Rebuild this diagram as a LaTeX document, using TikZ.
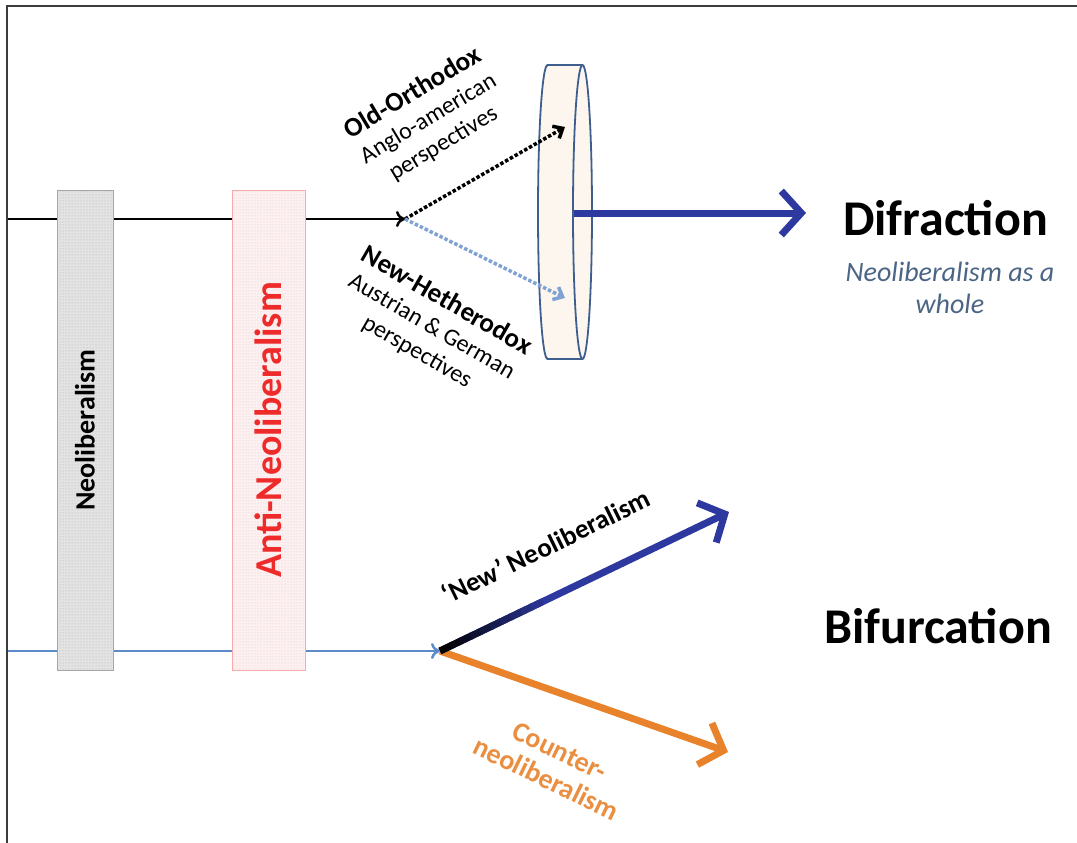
\documentclass[tikz,border=0pt]{standalone}
\usepackage{fontspec}
\setmainfont{Carlito}
\usepackage{xcolor}
\usepackage{tikz}
\usetikzlibrary{arrows.meta,positioning,calc,patterns}

\definecolor{framegray}{HTML}{3C3C3C}
\definecolor{linkblue}{HTML}{5B8CC8}
\definecolor{dotblue}{HTML}{7FA2D2}
\definecolor{deepblue}{HTML}{2D399F}
\definecolor{fanorange}{HTML}{E8832C}
\definecolor{lensedge}{HTML}{3E5F8E}
\definecolor{lensfill}{HTML}{FCF6EE}
\definecolor{notegray}{HTML}{4B6585}
\definecolor{antired}{HTML}{EE2A2A}

\tikzset{
  band/.style={draw=gray!70, fill=gray!22, line width=1pt, inner sep=0pt,
    rotate=90, minimum width=480pt},
  thinarrow/.style={line width=2.5pt, -{To[length=9pt,width=16pt]}},
  dotarrow/.style={line width=3.5pt, dotted, -{Straight Barb[length=8pt,width=14pt]}},
  fatarrow/.style={line width=7pt, -{Straight Barb[length=20pt,width=44pt]}},
  tilted/.style={align=center, inner sep=0pt},
  lensline/.style={lensedge, line width=1.8pt},
}

\begin{document}
\begin{tikzpicture}[x=1pt,y=-1pt]
    \useasboundingbox (0,0) rectangle (1077,843);

    % Frame
    \draw[framegray, line width=2.5pt] (7,843) -- (7,6) -- (1077,6);

    % Upper track
    \coordinate (topstart) at (8,219);
    \coordinate (split) at (405,219);
    \draw[black, thinarrow] (topstart) -- (split);

    % Lower track
    \coordinate (lowstart) at (8,651);
    \coordinate (fork) at (440,651);
    \draw[linkblue, thinarrow] (lowstart) -- (fork);

    % Bands
    \node[band, minimum height=56pt, postaction={pattern=dots, pattern color=gray!60},
        font=\fontsize{28}{30}\selectfont\bfseries] (neoband)
        at (85,430) {Neoliberalism};
    \node[band, draw=antired!40, fill=antired!7, minimum height=73pt,
        postaction={pattern=dots, pattern color=gray!40},
        text=antired, font=\fontsize{38}{42}\selectfont\bfseries] (antiband)
        at (268.5,430) {Anti-Neoliberalism};

    % Lens
    \filldraw[lensline, fill=lensfill] (547.5,212) ellipse[x radius=9.5, y radius=147];
    \fill[lensfill] (547.5,65) rectangle (582.5,359);
    \draw[lensline] (547.5,65) -- (582.5,65);
    \draw[lensline] (547.5,359) -- (582.5,359);
    \filldraw[lensline, fill=lensfill] (582.5,212) ellipse[x radius=9.5, y radius=147];

    % Split into two paths
    \coordinate (oldend) at (565,127);
    \coordinate (newend) at (565,298);
    \draw[black, dotarrow] (split) -- (oldend);
    \draw[dotblue, dotarrow] (split) -- (newend);

    \node[tilted, rotate=31, font=\fontsize{24}{29}\selectfont] (oldlabel) at (428,118)
        {{\fontsize{27}{29}\selectfont\bfseries Old-Orthodox}\\Anglo-american\\perspectives};
    \node[tilted, rotate=-30, font=\fontsize{24}{29}\selectfont] (newlabel) at (432,326)
        {{\fontsize{27}{29}\selectfont\bfseries New-Hetherodox}\\Austrian \& German\\perspectives};

    % Difraction
    \coordinate (lensout) at (574,213);
    \coordinate (difend) at (806,213);
    \draw[deepblue, fatarrow] (lensout) -- (difend);
    \node[font=\fontsize{50}{54}\selectfont\bfseries, anchor=base] (difraction)
        at (945.5,235) {Difraction};
    \node[font=\fontsize{28}{32}\selectfont\itshape, text=notegray, align=center]
        (wholelabel) at (950,288) {Neoliberalism as a\\whole};

    % Bifurcation
    \coordinate (newneoend) at (729,512);
    \coordinate (counterend) at (728,752);
    \draw[fanorange, fatarrow] (fork) -- (counterend);
    \draw[deepblue, fatarrow] (fork) -- (newneoend);
    \foreach \k in {0,...,9}
        \draw[deepblue!\the\numexpr\k*10\relax!black, line width=7pt]
            ($(fork)!\k*0.035!(newneoend)$) -- ($(fork)!\k*0.035+0.04!(newneoend)$);
    \node[font=\fontsize{50}{54}\selectfont\bfseries, anchor=base] (bifurcation)
        at (938,643) {Bifurcation};

    \node[tilted, rotate=26, font=\fontsize{27}{30}\selectfont\bfseries] (newneolabel)
        at (546,546) {`New' Neoliberalism};
    \node[tilted, rotate=-26, text=fanorange!90!white, font=\fontsize{28}{31}\selectfont\bfseries]
        (counterlabel) at (553,765) {Counter-\\neoliberalism};
\end{tikzpicture}
\end{document}
